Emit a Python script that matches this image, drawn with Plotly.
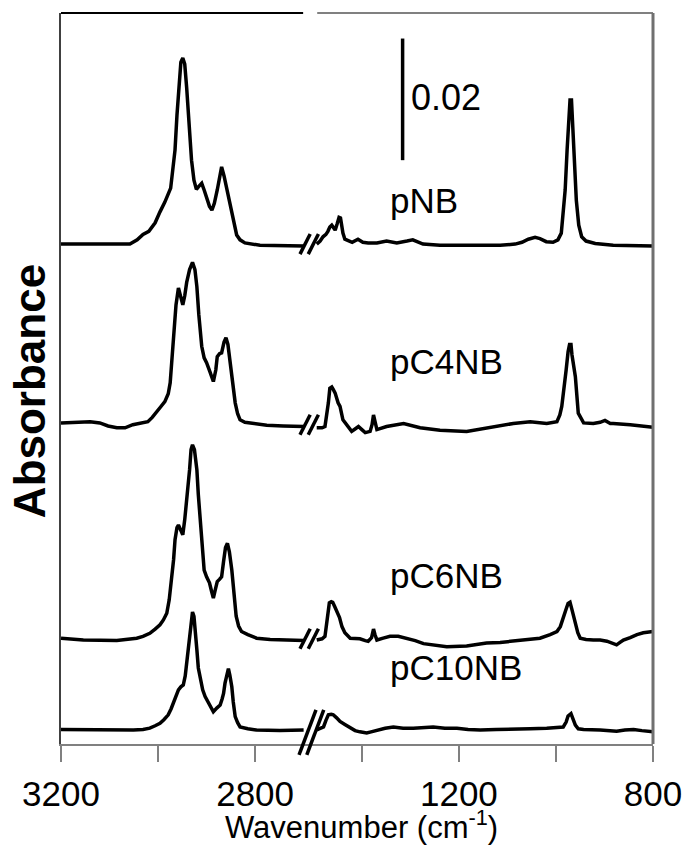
import plotly.graph_objects as go

# ---------------- data (wavenumber cm-1, absorbance relative to own baseline) -------------
samples = ["pNB", "pC4NB", "pC6NB", "pC10NB"]
offsets = [0.0822, 0.0525, 0.0173, 0.0023]

pNB_w = [3200, 3058, 3043, 3031, 3019, 3006, 2996, 2986, 2974, 2969, 2965, 2961, 2957, 2953, 2949,
         2945, 2941, 2936, 2931, 2926, 2921, 2916, 2910, 2905, 2899, 2894, 2889, 2884, 2878, 2873,
         2869, 2864, 2858, 2854, 2848, 2843, 2838, 2831, 2821, 2790, 2749, 2700,
         None,
         1493, 1486, 1480, 1474, 1470, 1466, 1462, 1458, 1455, 1451, 1447, 1444, 1439, 1435, 1428,
         1420, 1408, 1398, 1387, 1369, 1349, 1328, 1307, 1295, 1274, 1239, 1198, 1156, 1115, 1084,
         1070, 1057, 1043, 1033, 1020, 1006, 996, 989, 985, 981, 977, 974, 971, 968, 966, 962, 958,
         953, 947, 938, 919, 882, 847, 800]
pNB_a = [0.0, 0.0, 0.0007, 0.0016, 0.0021, 0.0035, 0.0053, 0.0069, 0.0092, 0.0122, 0.0155, 0.0212,
         0.0266, 0.0299, 0.0306, 0.0296, 0.0257, 0.0187, 0.0138, 0.0105, 0.0090, 0.0095, 0.0100,
         0.0089, 0.0074, 0.0062, 0.0056, 0.0067, 0.0089, 0.0113, 0.0127, 0.0112, 0.0089, 0.0076,
         0.0056, 0.0033, 0.0015, 0.0007, 0.0002, -0.0002, -0.0003, -0.0003,
         None,
         0.0, 0.0005, 0.0012, 0.0016, 0.0021, 0.0028, 0.0031, 0.0025, 0.0023, 0.0033, 0.0044, 0.0043,
         0.0018, 0.0008, 0.0005, 0.0003, 0.0008, 0.0003, 0.0002, 0.0002, 0.0005, 0.0002, 0.0005,
         0.0007, 0.0, -0.0002, -0.0002, -0.0002, -0.0002, 0.0, 0.0003, 0.0008, 0.0011, 0.0009,
         0.0004, 0.0003, 0.0007, 0.0018, 0.0048, 0.0089, 0.0155, 0.0204, 0.0237, 0.0237, 0.0204,
         0.0146, 0.0072, 0.0031, 0.0012, 0.0005, 0.0001, -0.0002, -0.0002, -0.0003]

pC4NB_w = [3200, 3168, 3140, 3120, 3103, 3085, 3068, 3052, 3037, 3021, 3012, 3003, 2994, 2986, 2979,
           2975, 2971, 2967, 2963, 2958, 2954, 2949, 2945, 2941, 2935, 2929, 2924, 2920, 2916, 2910,
           2905, 2900, 2893, 2886, 2881, 2878, 2873, 2869, 2864, 2860, 2856, 2852, 2846, 2841, 2836,
           2831, 2821, 2810, 2776, 2742, 2700,
           None,
           1493, 1482, 1476, 1472, 1469, 1466, 1462, 1459, 1455, 1449, 1445, 1439, 1431, 1426, 1421,
           1414, 1407, 1400, 1393, 1383, 1379, 1376, 1373, 1369, 1349, 1314, 1280, 1239, 1184, 1129,
           1088, 1053, 1019, 998, 992, 988, 983, 979, 975, 972, 969, 967, 960, 954, 943, 923, 909,
           899, 888, 882, 847, 800]
pC4NB_a = [0.0003, 0.0004, 0.0005, 0.0003, -0.0002, -0.0005, -0.0005, 0.0, 0.0002, 0.0005, 0.0012,
           0.0020, 0.0030, 0.0038, 0.0051, 0.0069, 0.0107, 0.0151, 0.0197, 0.0225, 0.0214, 0.0197,
           0.0212, 0.0234, 0.0255, 0.0267, 0.0255, 0.0227, 0.0181, 0.0129, 0.0110, 0.0102, 0.0087,
           0.0071, 0.0090, 0.0112, 0.0117, 0.0118, 0.0136, 0.0143, 0.0132, 0.0107, 0.0071, 0.0036,
           0.0018, 0.0008, 0.0004, 0.0003, -0.0001, -0.0002, -0.0003,
           None,
           -0.0005, -0.0005, -0.0003, 0.0016, 0.0036, 0.0060, 0.0062, 0.0058, 0.0052, 0.0036, 0.0030,
           0.0008, 0.0, -0.0007, -0.0011, -0.0007, -0.0003, -0.0008, -0.0013, -0.0011, 0.0, 0.0016,
           0.0005, -0.0008, -0.0003, 0.0002, -0.0005, -0.0009, -0.0011, -0.0003, 0.0002, 0.0005,
           0.0002, 0.0005, 0.0016, 0.0030, 0.0058, 0.0090, 0.0120, 0.0132, 0.0132, 0.0115, 0.0079,
           0.0019, 0.0003, 0.0002, 0.0004, 0.0007, 0.0002, 0.0002, 0.0, -0.0004]

pC6NB_w = [3200, 3154, 3085, 3044, 3031, 3017, 3006, 2996, 2989, 2982, 2977, 2972, 2968, 2965, 2961,
           2958, 2954, 2949, 2945, 2940, 2935, 2932, 2929, 2925, 2920, 2917, 2913, 2909, 2905, 2900,
           2894, 2890, 2886, 2882, 2878, 2873, 2869, 2865, 2861, 2857, 2853, 2848, 2844, 2839, 2834,
           2828, 2815, 2797, 2769, 2742, 2700,
           None,
           1493, 1482, 1476, 1471, 1467, 1463, 1460, 1456, 1452, 1446, 1441, 1435, 1424, 1414, 1404,
           1393, 1387, 1380, 1376, 1373, 1369, 1356, 1342, 1325, 1307, 1290, 1273, 1249, 1225, 1184,
           1143, 1115, 1088, 1060, 1033, 1012, 998, 991, 985, 979, 975, 971, 967, 960, 955, 950, 938,
           923, 909, 895, 884, 875, 868, 861, 847, 833, 820, 800]
pC6NB_a = [0.0001, -0.0002, -0.0003, 0.0001, 0.0004, 0.0009, 0.0016, 0.0023, 0.0031, 0.0042, 0.0064,
           0.0097, 0.0130, 0.0163, 0.0183, 0.0187, 0.0179, 0.0171, 0.0196, 0.0234, 0.0278, 0.0311,
           0.0319, 0.0311, 0.0278, 0.0237, 0.0190, 0.0146, 0.0113, 0.0102, 0.0092, 0.0079, 0.0067,
           0.0081, 0.0094, 0.0098, 0.0102, 0.0127, 0.0150, 0.0157, 0.0143, 0.0113, 0.0072, 0.0037,
           0.0021, 0.0012, 0.0007, 0.0001, -0.0001, -0.0002, -0.0003,
           None,
           -0.0002, 0.0, 0.0004, 0.0031, 0.0059, 0.0061, 0.0060, 0.0053, 0.0045, 0.0035, 0.0020,
           0.0010, 0.0001, 0.0, 0.0, -0.0003, -0.0004, 0.0002, 0.0016, 0.0007, -0.0002, 0.0001,
           0.0004, 0.0004, 0.0001, -0.0003, -0.0008, -0.0011, -0.0013, -0.0012, -0.0007, -0.0006,
           -0.0004, -0.0002, 0.0001, 0.0007, 0.0012, 0.0020, 0.0037, 0.0049, 0.0058, 0.0060, 0.0048,
           0.0026, 0.0010, 0.0001, -0.0001, -0.0002, -0.0002, -0.0004, -0.0007, -0.0010, -0.0006,
           -0.0002, 0.0002, 0.0007, 0.0010, 0.0012]

pC10NB_w = [3200, 3120, 3051, 3031, 3017, 3006, 2996, 2988, 2979, 2973, 2967, 2962, 2958, 2953, 2948,
            2944, 2941, 2938, 2934, 2931, 2929, 2926, 2923, 2920, 2917, 2913, 2908, 2903, 2895, 2886,
            2879, 2872, 2868, 2865, 2862, 2858, 2855, 2852, 2848, 2845, 2841, 2836, 2831, 2815, 2797,
            2749, 2700,
            None,
            1493, 1486, 1479, 1474, 1469, 1463, 1459, 1452, 1445, 1435, 1424, 1414, 1404, 1390, 1381,
            1369, 1352, 1335, 1315, 1294, 1274, 1253, 1229, 1204, 1181, 1156, 1123, 1088, 1053, 1019,
            1000, 985, 979, 975, 969, 965, 960, 954, 943, 909, 875, 858, 840, 823, 800]
pC10NB_a = [0.0001, 0.0, 0.0, 0.0001, 0.0003, 0.0007, 0.0011, 0.0017, 0.0025, 0.0035, 0.0047, 0.0059,
            0.0066, 0.0071, 0.0074, 0.0089, 0.0110, 0.0135, 0.0153, 0.0181, 0.0194, 0.0187, 0.0164,
            0.0132, 0.0102, 0.0082, 0.0066, 0.0055, 0.0044, 0.0030, 0.0036, 0.0041, 0.0051, 0.0060,
            0.0077, 0.0095, 0.0101, 0.0090, 0.0071, 0.0046, 0.0022, 0.0012, 0.0005, 0.0002, 0.0,
            -0.0001, 0.0,
            None,
            0.0, 0.0002, 0.0005, 0.0016, 0.0025, 0.0026, 0.0025, 0.0020, 0.0014, 0.0009, 0.0003,
            -0.0001, -0.0003, -0.0005, -0.0003, 0.0, 0.0003, 0.0005, 0.0003, 0.0003, 0.0004, 0.0005,
            0.0003, 0.0003, 0.0001, 0.0, 0.0001, 0.0001, 0.0002, 0.0003, 0.0004, 0.0005, 0.0013,
            0.0023, 0.0027, 0.0020, 0.0008, 0.0002, 0.0001, 0.0, -0.0002, 0.0, 0.0001, -0.0001,
            -0.0003]

tick_wavenumbers = [3200, 3000, 2800, 1400, 1200, 1000, 800]
tick_labels = ["3200", "", "2800", "", "1200", "", "800"]
scale_bar = 0.02

# ---------------- broken-axis scale -------------
HIGH_START, HIGH_END = 3200, 2700
LOW_START, LOW_END = 1500, 800
GAP = 20
U_MAX = (HIGH_START - HIGH_END) + GAP + (LOW_START - LOW_END)
Y_MAX = 0.1202


def to_u(w):
    if w is None:
        return None
    if w >= HIGH_END:
        return HIGH_START - w
    return (HIGH_START - HIGH_END) + GAP + (LOW_START - w)


series = {
    "pNB": (pNB_w, pNB_a),
    "pC4NB": (pC4NB_w, pC4NB_a),
    "pC6NB": (pC6NB_w, pC6NB_a),
    "pC10NB": (pC10NB_w, pC10NB_a),
}

fig = go.Figure()
for name, off in zip(samples, offsets):
    ws, aa = series[name]
    xs = [to_u(w) for w in ws]
    ys = [None if a is None else a + off for a in aa]
    fig.add_trace(go.Scatter(x=xs, y=ys, mode="lines", name=name,
                             line=dict(color="black", width=3.5), connectgaps=False,
                             showlegend=False, hoverinfo="skip"))

shapes = []


def px_(u):
    return u / U_MAX


def py_(v):
    return v / Y_MAX


# break marks on each spectrum
for i, off in enumerate(offsets):
    last = i == len(offsets) - 1
    if last:
        centers, hdx, hdy = [508, 524], 17.5, 0.0037
        cy = off - 0.0004
    else:
        centers, hdx, hdy = [503, 520], 10.5, 0.00165
        cy = off
    for cu in centers:
        shapes.append(dict(type="line", xref="paper", yref="paper",
                           x0=px_(cu - hdx), y0=py_(cy - hdy), x1=px_(cu + hdx), y1=py_(cy + hdy),
                           line=dict(color="black", width=3.5)))

# top frame with a gap at the break, and right frame
shapes.append(dict(type="line", xref="paper", yref="paper", x0=0, x1=px_(499), y0=1, y1=1,
                   line=dict(color="black", width=2)))
shapes.append(dict(type="line", xref="paper", yref="paper", x0=px_(528), x1=1, y0=1, y1=1,
                   line=dict(color="#808080", width=2)))
shapes.append(dict(type="line", xref="paper", yref="paper", x0=1, x1=1, y0=0, y1=1,
                   line=dict(color="#707070", width=3)))

# scale bar
bar_u = to_u(1316)
bar_bottom = 0.0960
shapes.append(dict(type="line", xref="x", yref="y", x0=bar_u, x1=bar_u,
                   y0=bar_bottom, y1=bar_bottom + scale_bar,
                   line=dict(color="black", width=3.5)))

annotations = [
    dict(x=bar_u + 14, y=bar_bottom + scale_bar / 2 + 0.0003, xref="x", yref="y",
         text=f"{scale_bar:.2f}", showarrow=False, xanchor="left", yanchor="middle",
         font=dict(size=36, color="black")),
]
label_pos = [0.0858, 0.0593, 0.0241, 0.0090]
for name, ly in zip(samples, label_pos):
    annotations.append(dict(x=to_u(1346), y=ly, xref="x", yref="y", text=name, showarrow=False,
                            xanchor="left", yanchor="bottom",
                            font=dict(size=35, color="black")))

annotations.append(dict(x=0.508, y=-0.1415, xref="paper", yref="paper",
                        text="Wavenumber (cm<sup>-1</sup>)", showarrow=False,
                        xanchor="center", yanchor="bottom",
                        font=dict(size=31, color="black")))
annotations.append(dict(x=-0.052, y=0.483, xref="paper", yref="paper",
                        text="<b>Absorbance</b>", showarrow=False, textangle=-90,
                        xanchor="center", yanchor="middle",
                        font=dict(size=44, color="black")))

fig.update_layout(
    width=686, height=846,
    margin=dict(l=61, r=33, t=13, b=102, autoexpand=False),
    paper_bgcolor="white", plot_bgcolor="white",
    font=dict(family="Liberation Sans, Arial, sans-serif", color="black"),
    shapes=shapes, annotations=annotations,
    xaxis=dict(range=[0, U_MAX], tickvals=[to_u(w) for w in tick_wavenumbers],
               ticktext=tick_labels, ticks="outside", ticklen=16, tickwidth=2,
               tickcolor="#808080", showline=True, linecolor="#808080", linewidth=2,
               showgrid=False, zeroline=False, tickfont=dict(size=35, color="black"),
               ticklabelstandoff=2, automargin=False),
    yaxis=dict(range=[0, Y_MAX], showticklabels=False, ticks="", showline=True,
               linecolor="#404040", linewidth=2, showgrid=False, zeroline=False,
               automargin=False),
)

fig.write_html("out.html")
